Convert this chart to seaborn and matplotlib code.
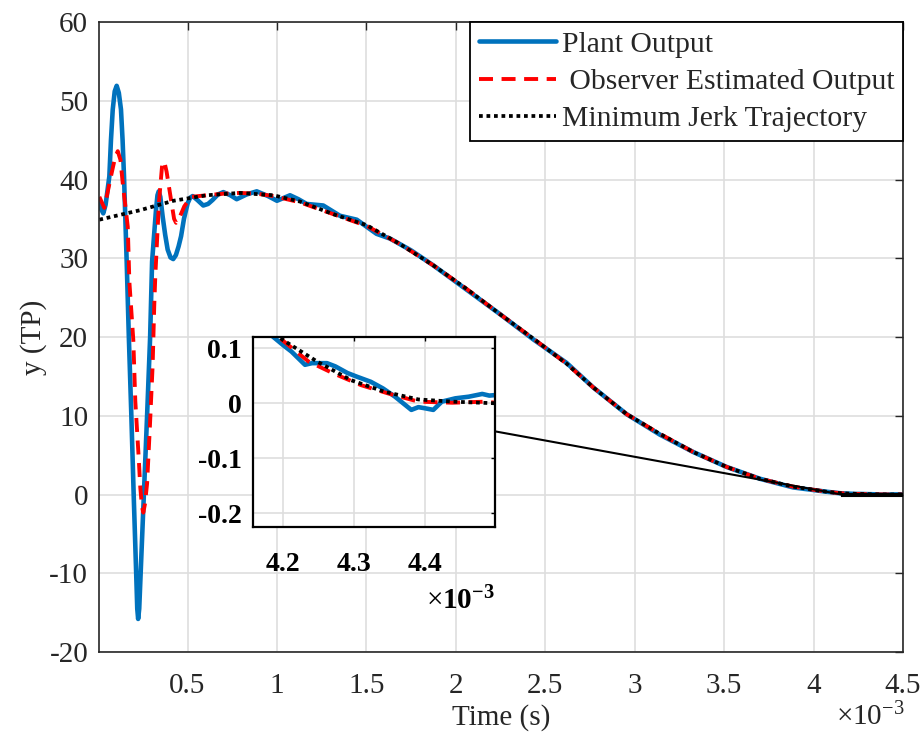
import matplotlib
matplotlib.use("Agg")

import matplotlib.pyplot as plt
import numpy as np
import pandas as pd
import seaborn as sns
from matplotlib.patches import ConnectionPatch, Rectangle

# time in ms (axis shows x10^-3 s)
t_plant = [0.007, 0.018, 0.029, 0.042, 0.063, 0.072, 0.082, 0.093, 0.104, 0.116,
           0.128, 0.137, 0.145, 0.16, 0.172, 0.186, 0.199, 0.213, 0.219, 0.224,
           0.230, 0.238, 0.256, 0.274, 0.291, 0.302, 0.324, 0.332, 0.339, 0.348,
           0.361, 0.375, 0.389, 0.405, 0.42, 0.435, 0.45, 0.464, 0.48, 0.501,
           0.515, 0.529, 0.555, 0.588, 0.615, 0.64, 0.67, 0.70, 0.74, 0.775,
           0.83, 0.887, 0.95, 1.0, 1.073, 1.12, 1.166, 1.259, 1.352, 1.446,
           1.557, 1.632, 1.75, 1.874, 2.061, 2.247, 2.433, 2.62, 2.768, 2.955,
           3.141, 3.327, 3.514, 3.7, 3.886, 4.073, 4.15,
           4.186, 4.200, 4.212, 4.231, 4.241, 4.262, 4.274, 4.291, 4.305, 4.324,
           4.341, 4.358, 4.381, 4.391, 4.400, 4.412, 4.424, 4.443, 4.462, 4.481,
           4.491, 4.5]
y_plant = [37.4, 36.2, 35.7, 36.8, 40.4, 45.0, 48.9, 51.2, 51.9, 51.0,
           48.9, 45.0, 40.4, 29.5, 20.0, 10.0, 0.0, -10.0, -14.5, -15.8,
           -14.5, -10.0, 0.0, 10.0, 20.0, 29.6, 36.2, 38.0, 38.5, 37.8,
           35.3, 33.0, 31.1, 30.1, 29.9, 30.4, 31.5, 32.8, 35.0, 37.0,
           37.7, 37.9, 37.4, 36.7, 36.9, 37.4, 38.1, 38.4, 38.0, 37.5,
           38.1, 38.5, 37.9, 37.3, 38.0, 37.5, 36.9, 36.7, 35.4, 34.9,
           33.1, 32.5, 31.0, 29.1, 26.0, 22.9, 19.7, 16.7, 13.6, 10.2,
           7.6, 5.4, 3.5, 2.0, 0.9, 0.35, 0.16,
           0.121, 0.106, 0.094, 0.070, 0.073, 0.073, 0.067, 0.055, 0.048, 0.039,
           0.027, 0.012, -0.012, -0.007, -0.009, -0.012, 0.003, 0.009, 0.012, 0.017,
           0.014, 0.015]

t_obs = [0.007, 0.035, 0.072, 0.095, 0.11, 0.125, 0.138, 0.166, 0.175, 0.197,
         0.208, 0.227, 0.236, 0.245, 0.253, 0.262, 0.274, 0.29, 0.305, 0.314,
         0.32, 0.34, 0.358, 0.37, 0.383, 0.408, 0.425, 0.436, 0.45, 0.482,
         0.52, 0.607, 0.7, 0.793, 0.887, 0.98, 1.129, 1.315,
         1.502, 1.688, 1.874, 2.061, 2.247, 2.433, 2.62, 2.768, 2.955, 3.141,
         3.327, 3.514, 3.7, 3.886, 4.073, 4.15,
         4.196, 4.236, 4.27, 4.31, 4.348, 4.391, 4.439, 4.486, 4.5]
y_obs = [37.8, 36.4, 40.4, 42.8, 43.6, 42.5, 39.5, 34.0, 27.0, 19.6,
         11.9, 4.7, 0.9, -1.5, -2.3, -1.2, 1.4, 8.8, 16.4, 24.0,
         27.8, 37.0, 41.8, 42.3, 41.0, 37.4, 35.0, 34.5, 34.9, 36.6,
         37.8, 38.0, 38.2, 38.3, 38.2, 37.9, 37.1, 35.6,
         34.1, 31.8, 29.1, 26.1, 22.9, 19.8, 16.6, 13.6, 10.2, 7.7,
         5.4, 3.5, 2.0, 1.0, 0.35, 0.17,
         0.118, 0.076, 0.055, 0.033, 0.018, 0.003, 0.001, 0.003, 0.001]

t_mjt = [0.007, 0.234, 0.421, 0.607, 0.793, 0.98, 1.129, 1.315, 1.502, 1.688,
         1.874, 2.061, 2.247, 2.433, 2.62, 2.768, 2.955, 3.141, 3.327, 3.514,
         3.7, 3.886, 4.073, 4.15,
         4.2, 4.248, 4.296, 4.343, 4.391, 4.439, 4.5]
y_mjt = [34.9, 36.1, 37.3, 38.0, 38.3, 38.0, 37.2, 35.6, 34.2, 31.8,
         29.1, 26.1, 22.9, 19.8, 16.6, 13.6, 10.2, 7.7, 5.4, 3.5,
         2.0, 1.0, 0.35, 0.17,
         0.115, 0.076, 0.042, 0.021, 0.007, 0.003, 0.0]

labels = ["Plant Output", " Observer Estimated Output", "Minimum Jerk Trajectory"]
x_ticks = [0.5, 1, 1.5, 2, 2.5, 3, 3.5, 4, 4.5]
y_ticks = [-20, -10, 0, 10, 20, 30, 40, 50, 60]
inset_xticks = [4.2, 4.3, 4.4]
inset_yticks = [-0.2, -0.1, 0, 0.1]

sns.set_theme(style="white")
plt.rcParams["font.family"] = ["Liberation Serif", "DejaVu Serif"]
plt.rcParams["mathtext.fontset"] = "custom"
plt.rcParams["mathtext.rm"] = "Liberation Serif"
plt.rcParams["mathtext.bf"] = "Liberation Serif:bold"
plt.rcParams["axes.unicode_minus"] = False

BLUE = "#0072BD"
GRID = "#dedede"
SPINE = "#262626"

series = [
    (t_plant, y_plant, BLUE, "-", 3.3),
    (t_obs, y_obs, "#ff0000", (0, (3.6, 2.2)), 2.8),
    (t_mjt, y_mjt, "black", (0, (1, 1)), 2.7),
]

fig = plt.figure(figsize=(9.24, 7.34), dpi=100)
ax = fig.add_axes([0.1075, 0.1117, 0.8698, 0.8583])

for (t, y, c, ls, lw), lab in zip(series, labels):
    sns.lineplot(x=t, y=y, ax=ax, color=c, linestyle=ls, linewidth=lw,
                 label=lab, sort=False, estimator=None)

ax.set_xlim(0.007, 4.5)
ax.set_ylim(-20, 60)
ax.set_xticks(x_ticks)
ax.set_xticklabels([f"{v:g}" for v in x_ticks])
ax.set_yticks(y_ticks)
ax.grid(True, color=GRID, linewidth=1.2)
ax.set_axisbelow(True)
ax.tick_params(direction="in", length=6, width=1, colors=SPINE, labelsize=21,
               top=True, right=True, labelcolor="#262626")
ax.tick_params(axis="x", pad=15)
ax.tick_params(axis="y", pad=8)
for s in ax.spines.values():
    s.set_color(SPINE)
    s.set_linewidth(1.2)
ax.set_xlabel("Time (s)", fontsize=21, color="#262626", labelpad=4)
ax.set_ylabel("y (TP)", fontsize=21, color="#262626", labelpad=2)
fig.text(905 / 924, 1 - 731 / 734, r"$\times\mathrm{10^{-3}}$", ha="right",
         va="bottom", fontsize=21, color="#262626")

leg = ax.legend(loc="upper right", borderaxespad=0, fontsize=21.3,
                handlelength=2.6, handletextpad=0.2, labelspacing=0.36,
                borderpad=0.3, fancybox=False, framealpha=1)
leg.get_frame().set_edgecolor("black")
leg.get_frame().set_linewidth(1.3)

# zoom box in main axes
ax.add_patch(Rectangle((4.157, -0.225), 4.5 - 4.157, 0.345, fill=False,
                       edgecolor="black", linewidth=1.5, zorder=5))

ins = fig.add_axes([252.5 / 924, 1 - 527.3 / 734, 242.5 / 924, 190 / 734])
ins.set_facecolor("white")
for (t, y, c, ls, lw) in series:
    sns.lineplot(x=t, y=y, ax=ins, color=c, linestyle=ls, linewidth=lw,
                 sort=False, estimator=None)
ins.set_xlim(4.157, 4.499)
ins.set_ylim(-0.2255, 0.12)
ins.set_xticks(inset_xticks)
ins.set_yticks(inset_yticks)
ins.set_xticklabels([f"{v:g}" for v in inset_xticks], fontweight="bold")
ins.set_yticklabels([f"{v:g}" for v in inset_yticks], fontweight="bold")
ins.grid(True, color=GRID, linewidth=1.2)
ins.set_axisbelow(True)
ins.tick_params(direction="in", length=3, width=1, colors="black",
                labelsize=20, top=True, right=True)
ins.tick_params(axis="x", pad=18)
ins.tick_params(axis="y", pad=8)
for s in ins.spines.values():
    s.set_color("black")
    s.set_linewidth(1.6)
fig.text(495 / 924, 1 - 615 / 734, r"$\times\mathbf{10^{-3}}$", ha="right",
         va="bottom", fontsize=21, color="black")

con = ConnectionPatch(xyA=(1.0, 0.505), coordsA=ins.transAxes,
                      xyB=(4.157, 0.0), coordsB=ax.transData,
                      color="black", linewidth=1.5)
fig.add_artist(con)

fig.savefig("out.png", dpi=100)
